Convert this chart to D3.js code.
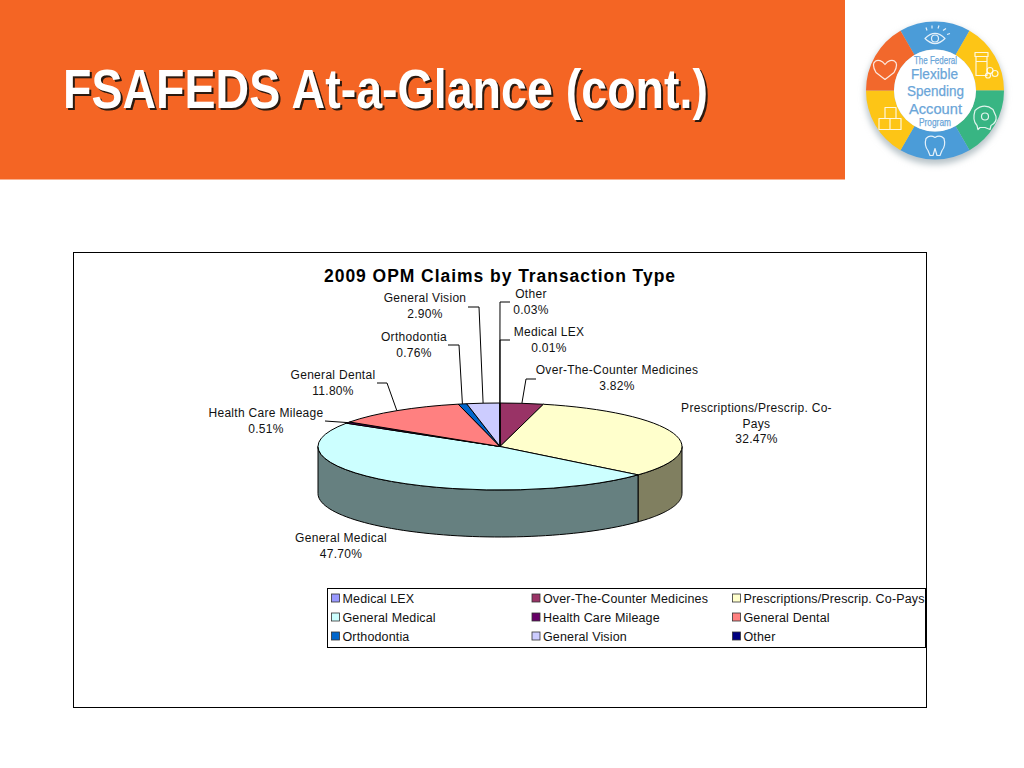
<!DOCTYPE html>
<html><head><meta charset="utf-8">
<script src="https://cdn.jsdelivr.net/npm/d3@7/dist/d3.min.js"></script>
<style>html,body{margin:0;padding:0;background:#fff}svg{display:block}text{font-family:"Liberation Sans",Arial,sans-serif}</style>
</head><body><svg id="c" width="1024" height="768"></svg>
<script>
const pageTitle = "FSAFEDS At-a-Glance (cont.)";
const chartTitle = "2009 OPM Claims by Transaction Type";
const categories = ["Medical LEX","Over-The-Counter Medicines","Prescriptions/Prescrip. Co-Pays","General Medical","Health Care Mileage","General Dental","Orthodontia","General Vision","Other"];
const values = [0.01,3.82,32.47,47.70,0.51,11.80,0.76,2.90,0.03];
const colors = ["#9999ff","#993366","#ffffcc","#ccffff","#660066","#ff8080","#0066cc","#ccccff","#000080"];
const sideColors = ["#666699","#662244","#807f60","#668080","#330033","#804040","#003366","#666680","#000040"];
// label layout: line texts, centre x, first baseline, leader elbow points
const labelLines = [
 ["Medical LEX","0.01%"],["Over-The-Counter Medicines","3.82%"],["Prescriptions/Prescrip. Co-","Pays","32.47%"],
 ["General Medical","47.70%"],["Health Care Mileage","0.51%"],["General Dental","11.80%"],
 ["Orthodontia","0.76%"],["General Vision","2.90%"],["Other","0.03%"]];
const labelX = [549,617,756.5,341,266,333,414,425,531];
const labelY = [336,374,412,542,417,379,341,302,298];
const leaders = [
 [[500,340],[510,340]],[[526,379],[536,379]],null,null,
 [[325,421]],[[387,383],[377,383]],[[459,345],[448,345]],[[479,307],[468,307]],[[500,302],[510,302]]];

const svg = d3.select("#c");
const defs = svg.append("defs");
const blur = defs.append("filter").attr("id","soft").attr("x","-20%").attr("y","-20%").attr("width","140%").attr("height","140%");
blur.append("feGaussianBlur").attr("stdDeviation",3);

// header
svg.append("rect").attr("width",845).attr("height",179.5).attr("fill","#f46524");
svg.append("text").attr("x",63).attr("y",108).attr("font-size",56).attr("font-weight","bold")
  .attr("textLength",645).attr("lengthAdjust","spacingAndGlyphs").attr("fill","#fff")
  .style("filter","drop-shadow(2.5px 2.5px 0 #2b1a10)").text(pageTitle);

// logo
const logo = svg.append("g").attr("transform","translate(935,90.5)");
logo.append("circle").attr("cy",4).attr("r",70).attr("fill","#b9c4c9").attr("filter","url(#soft)");
const segColors = ["#4b9cd8","#fdc516","#38b583","#4b9cd8","#fdc516","#f2682c"];
const segPie = d3.pie().sort(null).startAngle(-Math.PI/6).endAngle(2*Math.PI-Math.PI/6)(segColors.map(()=>1));
logo.selectAll("path.seg").data(segPie).join("path").attr("class","seg")
  .attr("d",d3.arc().innerRadius(41).outerRadius(69)).attr("fill",(d,i)=>segColors[i]);
logo.append("circle").attr("r",41).attr("fill","#fff");
const logoText = [["The Federal",-21,-27,43,11],["Flexible",-24,-11.5,47,15.5],["Spending",-28,5.5,57,15.5],["Account",-26,23,53,15.5],["Program",-16,35.5,32,10]];
logo.selectAll("text").data(logoText).join("text")
  .attr("x",d=>d[1]).attr("y",d=>d[2]).attr("textLength",d=>d[3]).attr("lengthAdjust","spacingAndGlyphs")
  .attr("font-size",d=>d[4]).attr("fill","#6aa5d8").attr("stroke","#6aa5d8").attr("stroke-width",.25).text(d=>d[0]);
const ic = logo.append("g").attr("fill","none").attr("stroke","#fff").attr("stroke-width",1.2).attr("stroke-opacity",.85).attr("stroke-linejoin","round");
ic.append("path").attr("d","M-10,-52 Q0,-62 10,-52 Q0,-42 -10,-52Z");
ic.append("circle").attr("cx",0).attr("cy",-52).attr("r",3.5);
ic.append("path").attr("d","M-8,-60 L-9,-63 M-3,-62 L-3,-65 M3,-62 L4,-65 M8,-60 L11,-62 M12,-56 L15,-57");
ic.append("path").attr("d","M-50,-26 C-44,-34 -34,-30 -41,-18 L-50,-11 L-59,-18 C-66,-30 -56,-34 -50,-26Z");
ic.append("path").attr("d","M40,-38 h13 v4 h-13z M41,-34 h11 v19 h-11z M41,-29 h11");
ic.append("circle").attr("cx",55).attr("cy",-20).attr("r",3);ic.append("circle").attr("cx",60).attr("cy",-17).attr("r",3);ic.append("circle").attr("cx",53).attr("cy",-15).attr("r",2.5);
ic.append("path").attr("d","M40,20 Q49,12 58,19 L61,26 Q62,32 56,35 L55,39 L50,37 H45 L43,39 L42,35 Q37,30 40,20Z");
ic.append("circle").attr("cx",50).attr("cy",26).attr("r",3.5);
ic.append("path").attr("d","M-9,48 Q-5,44 0,47 Q5,44 9,48 Q11,55 7,60 L5,65 L2,65 L0,58 L-2,65 L-5,65 L-7,60 Q-11,55 -9,48Z");
ic.append("path").attr("d","M-50,17 h11 v11 h-11z M-56,28 h11 v11 h-11z M-45,28 h11 v11 h-11z");

// chart frame
svg.append("rect").attr("x",73.5).attr("y",252.5).attr("width",853).attr("height",455).attr("fill","#fff").attr("stroke","#000");
svg.append("text").attr("x",500).attr("y",282).attr("text-anchor","middle").attr("font-size",17.5).attr("font-weight","bold")
  .attr("letter-spacing",0.95).attr("fill","#000").text(chartTitle);

// pie geometry
const cx=500, cy=446.5, rx=182, ry=43.5, depth=47;
const slices = d3.pie().sort(null).value(d=>d)(values);
const pt = (a,dy=0)=>[cx+rx*Math.sin(a), cy-ry*Math.cos(a)+dy];

// side wall: portions of each slice in the front half (90deg..270deg)
const lo=Math.PI/2, hi=3*Math.PI/2;
const pie3d = svg.append("g").attr("stroke","#000").attr("stroke-width",1).attr("stroke-linejoin","round");
slices.forEach((s,i)=>{
  const a0=Math.max(s.startAngle,lo), a1=Math.min(s.endAngle,hi);
  if(a1<=a0) return;
  const p=d3.path(), n=60, toRad=d3.scaleLinear().domain([0,n]).range([a0,a1]);
  p.moveTo(...pt(a0));
  d3.range(1,n+1).forEach(k=>p.lineTo(...pt(toRad(k))));
  d3.range(n,-1,-1).forEach(k=>p.lineTo(...pt(toRad(k),depth)));
  p.closePath();
  pie3d.append("path").attr("d",p.toString()).attr("fill",sideColors[i]);
});
// top faces
const arc = d3.arc().innerRadius(0).outerRadius(rx);
pie3d.selectAll("path.top").data(slices).join("path").attr("class","top")
  .attr("transform",`translate(${cx},${cy}) scale(1,${ry/rx})`)
  .attr("vector-effect","non-scaling-stroke")
  .attr("d",arc).attr("fill",(d,i)=>colors[i]);

// leaders
const leaderG = svg.append("g").attr("fill","none").attr("stroke","#000").attr("stroke-width",1);
slices.forEach((s,i)=>{
  if(!leaders[i]) return;
  const start = pt((s.startAngle+s.endAngle)/2);
  leaderG.append("path").attr("d",d3.line()([start,...leaders[i]]));
});

// labels
const lab = svg.append("g").attr("font-size",12).attr("fill","#111").attr("text-anchor","middle").attr("letter-spacing",0.3);
labelLines.forEach((lines,i)=>{
  lines.forEach((t,j)=>lab.append("text").attr("x",labelX[i]).attr("y",labelY[i]+j*15.6).text(t));
});

// legend
svg.append("rect").attr("x",327.5).attr("y",588.5).attr("width",598).attr("height",59).attr("fill","#fff").attr("stroke","#000");
const lx = d3.scalePoint().domain([0,1,2]).range([331,732]);
const ly = d3.scalePoint().domain([0,1,2]).range([593.5,631.5]);
const leg = svg.append("g").selectAll("g").data(categories).join("g")
  .attr("transform",(d,i)=>`translate(${lx(i%3)},${ly(Math.floor(i/3))})`);
leg.append("rect").attr("x",.5).attr("y",.5).attr("width",8).attr("height",8)
  .attr("fill",(d,i)=>colors[i]).attr("stroke","#333").attr("stroke-width",.8);
leg.append("text").attr("x",11.5).attr("y",9).attr("font-size",12.5).attr("letter-spacing",0.15).attr("fill","#111").text(d=>d);
</script></body></html>
